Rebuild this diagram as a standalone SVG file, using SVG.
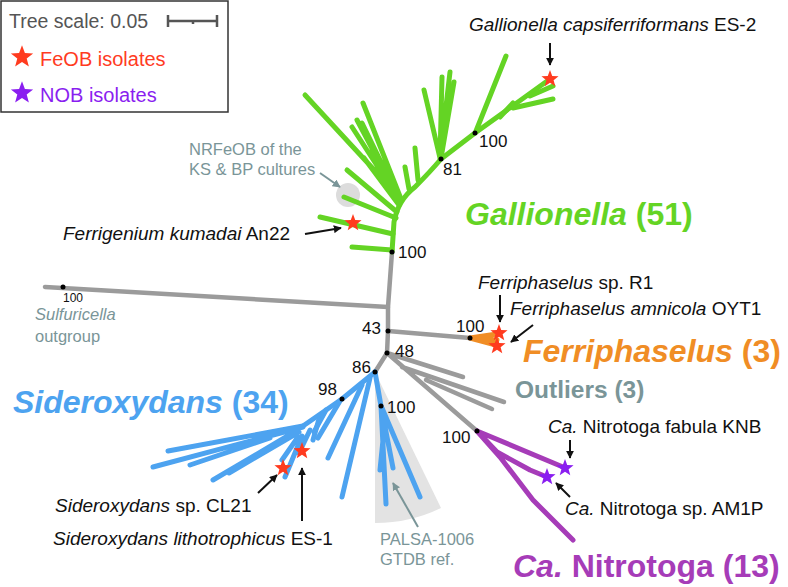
<svg xmlns="http://www.w3.org/2000/svg" width="788" height="587" viewBox="0 0 788 587">
<style>
text{font-family:"Liberation Sans",Arial,sans-serif;}
.sp{font-size:19px;fill:#111;}
.bs{font-size:17px;fill:#111;}
.gt{font-size:16.5px;fill:#7a9598;}
.big{font-size:32px;font-weight:bold;}
.i{font-style:italic;}
.g{stroke:#64d424;stroke-width:5;fill:none;stroke-linecap:round;stroke-linejoin:round;}
.b{stroke:#4da3f0;stroke-width:5;fill:none;stroke-linecap:round;stroke-linejoin:round;}
.p{stroke:#a63cb8;stroke-width:5;fill:none;stroke-linecap:round;stroke-linejoin:round;}
.gr{stroke:#9b9b9b;stroke-width:4.5;fill:none;stroke-linecap:round;stroke-linejoin:round;}
.o{stroke:#f08d25;stroke-width:5;fill:none;stroke-linecap:round;}
.ar{stroke:#111;stroke-width:2;fill:none;marker-end:url(#ah);}
.ag{stroke:#7a9598;stroke-width:2;fill:none;marker-end:url(#ahg);}
.dot{fill:#000;}
.rs{fill:#ff3b1f;}
.ps{fill:#8a1ef0;}
</style>
<defs>
<marker id="ah" viewBox="0 0 10 10" refX="9" refY="5" markerWidth="4" markerHeight="4" orient="auto" markerUnits="strokeWidth"><path d="M0,0 L10,5 L0,10 Z" fill="#111"/></marker>
<marker id="ahg" viewBox="0 0 10 10" refX="9" refY="5" markerWidth="4" markerHeight="4" orient="auto" markerUnits="strokeWidth"><path d="M0,0 L10,5 L0,10 Z" fill="#7a9598"/></marker>
<path id="star" d="M0,-9 L2.23,-3.07 L8.56,-2.78 L3.61,1.17 L5.29,7.28 L0,3.8 L-5.29,7.28 L-3.61,1.17 L-8.56,-2.78 L-2.23,-3.07 Z"/>
</defs>
<rect width="788" height="587" fill="#fff"/>

<g id="legend">
<rect x="1" y="1" width="227" height="111" fill="#fff" stroke="#333" stroke-width="1.5"/>
<text x="9" y="28" style="font-size:19.5px;fill:#555">Tree scale: 0.05</text>
<path d="M168,21 H217 M168,15 V27 M217,15 V27 M193,21 V24" stroke="#555" stroke-width="2.5" fill="none"/>
<use href="#star" class="rs" transform="translate(22,57) scale(1.3)"/>
<text x="40" y="66" style="font-size:20px;fill:#ff3b1f">FeOB isolates</text>
<use href="#star" class="ps" transform="translate(22,93) scale(1.3)"/>
<text x="40" y="102" style="font-size:20px;fill:#8a1ef0">NOB isolates</text>
</g>

<g id="wedges">
<path d="M375,372 L375,523 A151,151 0 0 0 441,508 Z" fill="#e3e3e3"/>
<circle cx="348" cy="195" r="12" fill="#dcdcdc"/>
</g>

<g id="connectors">
<!-- gray backbone -->
<path class="gr" d="M45,287 L388,307"/>
<path class="gr" d="M392,252 L388,307 L388,331 L387,353 L375,372"/>
<path class="gr" d="M388,331 L470,338"/>
<path class="gr" d="M387,353 L463,377 M387,353 L477,431 M402,367 L504,402 M426,380 L492,409"/>
<path class="o" d="M470,338 L497,334 M470,338 L496,345 M470,338 L497,340"/>

<!-- Gallionella -->
<path class="g" d="M392,252 L394,222 Q398,200 415,187 Q430,172 441,159 L475,133 L550,79"/>
<path class="g" d="M476,131 L506,56 M500,117 L513,103 M513,108 L553,99 M530,96 L553,86"/>
<path class="g" d="M440,158 L424,90 M440,158 L442,77 M440,158 L450,72 M441,158 L454,82"/>
<path class="g" d="M418,180 L415,148 M409,189 L405,167"/>
<path class="g" d="M401,199 L305,95 M401,199 L363,103 M400,201 L357,120 M400,201 L352,127 M400,201 L362,123 M399,205 L370,152 M399,205 L364,158"/>
<path class="g" d="M397,212 L347,170 M396,218 L344,197 M393,234 L320,217 M392,250 L352,247"/>

<!-- Sideroxydans -->
<path class="b" d="M375,372 L342,399 L303,426"/>
<path class="b" d="M370,378 L342,497 M362,385 L328,458 M340,401 L318,438 M326,410 L314,432"/>
<path class="b" d="M303,426 L168,451 M303,427 L153,467 M270,438 L190,465 M296,431 L213,480 M299,432 L229,473 M298,437 L282,460 M302,436 L285,477 M310,430 L299,453 M319,419 L313,440"/>
<path class="b" d="M375,372 L381,406 L386,504 M381,406 L393,468 M382,408 L420,497 M383,440 L380,470"/>

<!-- Nitrotoga -->
<path class="p" d="M477,431 L563,467 M477,431 L497,452 L530,470 L547,477 M477,431 L500,457 L533,500 L573,540"/>

<!-- label arrows -->
<path class="ar" d="M550,43 V65"/>
<path class="ar" d="M305,234 L341,228"/>
<path class="ag" d="M320,173 L340,187"/>
<path class="ar" d="M500,295 V322"/>
<path class="ar" d="M533,325 L511,342"/>
<path class="ar" d="M570,440 V458"/>
<path class="ar" d="M570,497 L556,483"/>
<path class="ar" d="M258,493 L277,475"/>
<path class="ar" d="M302,521 V468"/>
<path class="ag" d="M418,527 L393,483"/>
</g>

<g id="stars">
<use href="#star" class="rs" transform="translate(550,79)"/>
<use href="#star" class="rs" transform="translate(353,223)"/>
<use href="#star" class="rs" transform="translate(499,333)"/>
<use href="#star" class="rs" transform="translate(497,346)"/>
<use href="#star" class="rs" transform="translate(302,451)"/>
<use href="#star" class="rs" transform="translate(283,468)"/>
<use href="#star" class="ps" transform="translate(565,468)"/>
<use href="#star" class="ps" transform="translate(547,477)"/>
</g>

<g id="nodes">
<circle class="dot" cx="63" cy="287" r="2.5"/>
<circle class="dot" cx="392" cy="252" r="2.5"/>
<circle class="dot" cx="441" cy="159" r="2.5"/>
<circle class="dot" cx="475" cy="133" r="2.5"/>
<circle class="dot" cx="388" cy="331" r="2.5"/>
<circle class="dot" cx="470" cy="338" r="2.5"/>
<circle class="dot" cx="387" cy="353" r="2.5"/>
<circle class="dot" cx="375" cy="372" r="2.5"/>
<circle class="dot" cx="342" cy="399" r="2.5"/>
<circle class="dot" cx="381" cy="406" r="2.5"/>
<circle class="dot" cx="477" cy="431" r="2.5"/>
</g>

<g id="labels">
<text class="sp" x="469" y="31"><tspan class="i">Gallionella capsiferriformans</tspan> ES-2</text>
<text class="gt" x="189" y="155">NRFeOB of the</text>
<text class="gt" x="189" y="175">KS &amp; BP cultures</text>
<text class="bs" x="479" y="147">100</text>
<text class="bs" x="443" y="175">81</text>
<text class="bs" x="398" y="258">100</text>
<text class="big" x="465" y="225" fill="#64d424"><tspan class="i">Gallionella</tspan> (51)</text>
<text class="sp" x="63" y="240"><tspan class="i">Ferrigenium kumadai</tspan> An22</text>
<text x="63" y="302" style="font-size:12px;fill:#111">100</text>
<text class="gt i" x="35" y="320">Sulfuricella</text>
<text class="gt" x="35" y="342">outgroup</text>
<text class="bs" x="381" y="334" text-anchor="end">43</text>
<text class="bs" x="456" y="332">100</text>
<text class="sp" x="478" y="289"><tspan class="i">Ferriphaselus</tspan> sp. R1</text>
<text class="sp" x="510" y="315"><tspan class="i">Ferriphaselus amnicola</tspan> OYT1</text>
<text class="big" x="523" y="362" fill="#f08d25"><tspan class="i">Ferriphaselus</tspan> (3)</text>
<text class="bs" x="395" y="357">48</text>
<text x="515" y="398" style="font-size:24.5px;font-weight:bold;fill:#7a9598">Outliers (3)</text>
<text class="bs" x="352" y="373">86</text>
<text class="bs" x="318" y="395">98</text>
<text class="bs" x="387" y="413">100</text>
<text class="big" x="13" y="413" fill="#4da3f0"><tspan class="i">Sideroxydans</tspan> (34)</text>
<text class="bs" x="442" y="443">100</text>
<text class="sp" x="548" y="433"><tspan class="i">Ca.</tspan> Nitrotoga fabula KNB</text>
<text class="sp" x="565" y="515"><tspan class="i">Ca.</tspan> Nitrotoga sp. AM1P</text>
<text class="sp" x="55" y="512"><tspan class="i">Sideroxydans</tspan> sp. CL21</text>
<text class="sp" x="53" y="545"><tspan class="i">Sideroxydans lithotrophicus</tspan> ES-1</text>
<text class="gt" x="380" y="545">PALSA-1006</text>
<text class="gt" x="380" y="565">GTDB ref.</text>
<text class="big" x="513" y="577" fill="#a63cb8"><tspan class="i">Ca.</tspan> Nitrotoga (13)</text>
</g>
</svg>
